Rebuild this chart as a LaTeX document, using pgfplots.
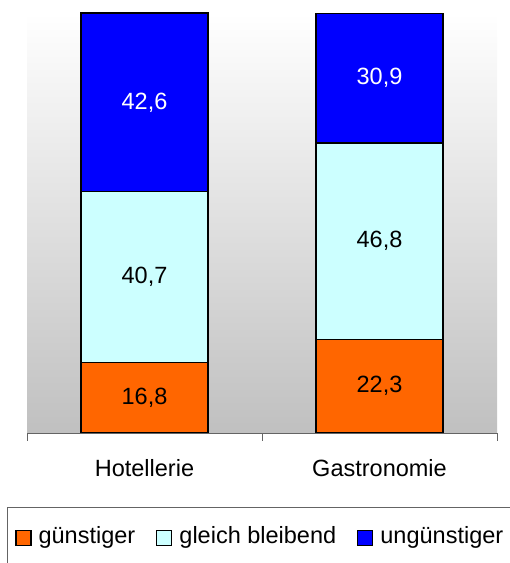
\documentclass[border=0pt]{standalone}
\usepackage{pgfplots}
\pgfplotsset{compat=1.18}
\usepackage{fontspec}
\setmainfont{Liberation Sans}
\definecolor{cOrange}{RGB}{255,102,0}
\definecolor{cCyan}{RGB}{204,255,255}
\definecolor{cBlue}{RGB}{0,0,255}
\definecolor{cGray}{RGB}{192,192,192}
\definecolor{cAx}{RGB}{100,100,100}
\newcommand{\cf}{\fontsize{23.5bp}{28bp}\selectfont}
\begin{document}
\begin{tikzpicture}
\path[use as bounding box, clip] (0,0) rectangle (510bp,563bp);
\begin{axis}[
  at={(27bp,130bp)}, anchor=south west,
  scale only axis, width=470bp, height=420bp,
  ybar stacked, bar width=127bp,
  xmin=-0.5, xmax=1.5, ymin=0, ymax=100.1,
  axis x line=bottom, axis y line=none,
  x axis line style={-, cAx, line width=0.8bp},
  xtick={0,1}, xticklabels={Hotellerie,Gastronomie},
  major x tick style={draw=none},
  minor xtick={-0.5,0.5,1.5},
  minor tick length=8bp,
  tick align=outside,
  minor x tick style={cAx, line width=0.8bp},
  xticklabel style={font=\cf, yshift=-19bp},
  axis background/.style={shade, top color=white, bottom color=cGray},
  point meta=explicit,
  nodes near coords,
  /pgf/number format/.cd, use comma, fixed, fixed zerofill, precision=1, assume math mode=true,
  /pgfplots/.cd,
  every node near coord/.append style={font=\cf, anchor=center},
  legend columns=3,
  legend style={at={(-0.04255,-0.1762)}, anchor=north west, draw=cAx, line width=0.8bp,
    font=\cf, inner xsep=8bp, inner ysep=17bp,
    /tikz/every even column/.append style={column sep=19bp},
    /tikz/every odd column/.append style={column sep=5bp}},
  sqleg/.style={legend image code/.code={\draw[##1, draw=black, line width=1.2bp] (0bp,-10bp) rectangle (15bp,5bp);}},
]
\addplot[fill=cOrange, draw=black, line width=1.5bp, sqleg] coordinates {(0,16.8) [16.8] (1,22.3) [22.3]};
\addplot[fill=cCyan, draw=black, line width=1.5bp, sqleg] coordinates {(0,40.7) [40.7] (1,46.8) [46.8]};
\addplot[fill=cBlue, draw=black, line width=1.5bp, sqleg, every node near coord/.append style={text=white}] coordinates {(0,42.6) [42.6] (1,30.9) [30.9]};
\legend{günstiger, gleich bleibend, ungünstiger}
\end{axis}
\end{tikzpicture}
\end{document}
